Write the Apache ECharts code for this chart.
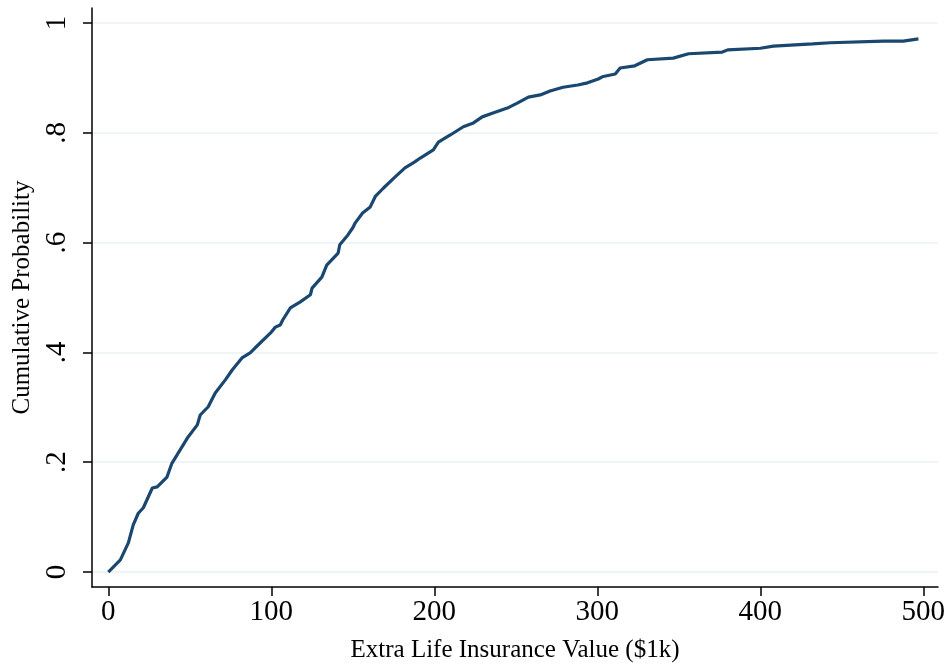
<!DOCTYPE html>
<html>
<head>
<meta charset="utf-8">
<script src="https://cdn.jsdelivr.net/npm/echarts@6/dist/echarts.min.js"></script>
<style>
  html, body { margin: 0; padding: 0; background: #fff; }
  #report { width: 951px; height: 670px; }
</style>
</head>
<body>
<div id="report"></div>
<script>
// 累积分布曲线的读数
var xValues = [0, 7.4, 12.3, 15.3, 18.4, 21.5, 27, 30, 36, 39, 48.5, 54.6, 56.4, 61.3, 65.6, 71.8,
    76, 82, 87, 90, 99.4, 102.5, 105.5, 107, 111.7, 117.8, 124, 125, 131, 134, 141, 142, 147,
    150, 151.5, 156, 160.7, 163.8, 168.7, 175, 182, 188, 191.4, 199.4, 202.5, 209.8, 217.8,
    224, 229.4, 236, 244.8, 250.9, 257.7, 265, 271, 279, 288, 294, 300.6, 303, 311, 314, 323,
    330.7, 346.6, 356, 376.7, 380, 400, 408, 432, 443, 475.5, 487.7, 497];
var yValues = [0, 0.022, 0.053, 0.086, 0.107, 0.117, 0.153, 0.155, 0.173, 0.198, 0.244, 0.268,
    0.286, 0.301, 0.326, 0.35, 0.368, 0.39, 0.399, 0.408, 0.435, 0.446, 0.45, 0.459, 0.481,
    0.492, 0.505, 0.517, 0.537, 0.559, 0.581, 0.596, 0.614, 0.627, 0.636, 0.654, 0.665, 0.684,
    0.699, 0.717, 0.736, 0.747, 0.754, 0.769, 0.783, 0.796, 0.811, 0.818, 0.829, 0.836, 0.845,
    0.854, 0.865, 0.869, 0.876, 0.883, 0.887, 0.891, 0.898, 0.902, 0.907, 0.918, 0.922, 0.933,
    0.936, 0.944, 0.947, 0.951, 0.954, 0.958, 0.962, 0.964, 0.967, 0.967, 0.971];

var xTicks = [0, 100, 200, 300, 400, 500];
var yTicks = [0, 0.2, 0.4, 0.6, 0.8, 1];

var fontName = '"Liberation Serif", "DejaVu Serif", serif';

var report = echarts.init(document.getElementById('report'));

var seriesData = [];
for (var i = 0; i < xValues.length; i++) {
    seriesData.push([xValues[i], yValues[i]]);
}

var option = {
    backgroundColor: '#ffffff',
    animation: false,
    grid: { left: 92, right: 13, top: 8, bottom: 83 },
    xAxis: {
        type: 'value',
        min: -10,
        max: 509,
        name: 'Extra Life Insurance Value ($1k)',
        nameLocation: 'middle',
        nameGap: 51,
        nameTextStyle: { fontFamily: fontName, fontSize: 25, color: '#000' },
        axisLine: { show: true, onZero: false, lineStyle: { color: '#000', width: 1.5 } },
        axisTick: { show: true, length: 9, customValues: xTicks, lineStyle: { color: '#000', width: 1.5 } },
        axisLabel: {
            customValues: xTicks,
            fontFamily: fontName, fontSize: 29, color: '#000', margin: 11
        },
        splitLine: { show: false }
    },
    yAxis: {
        type: 'value',
        min: -0.0273,
        max: 1.0273,
        name: 'Cumulative Probability',
        nameLocation: 'middle',
        nameRotate: 90,
        nameGap: 56,
        nameTextStyle: { fontFamily: fontName, fontSize: 25, color: '#000' },
        axisLine: { show: true, onZero: false, lineStyle: { color: '#000', width: 1.5 } },
        axisTick: { show: true, length: 9, customValues: yTicks, lineStyle: { color: '#000', width: 1.5 } },
        axisLabel: {
            customValues: yTicks,
            rotate: 90,
            fontFamily: fontName, fontSize: 29, color: '#000', margin: 20,
            formatter: function (v) {
                if (v === 0) return '0';
                if (Math.abs(v - 1) < 1e-9) return '1';
                return String(Math.round(v * 10) / 10).replace(/^0/, '');
            }
        },
        splitLine: { show: true, lineStyle: { color: '#eaf2f3', width: 1.5 } }
    },
    series: [{
        type: 'line',
        data: seriesData,
        showSymbol: false,
        smooth: false,
        lineStyle: { color: '#1a476f', width: 3.2 },
        itemStyle: { color: '#1a476f' }
    }]
};

report.setOption(option);
</script>
</body>
</html>
